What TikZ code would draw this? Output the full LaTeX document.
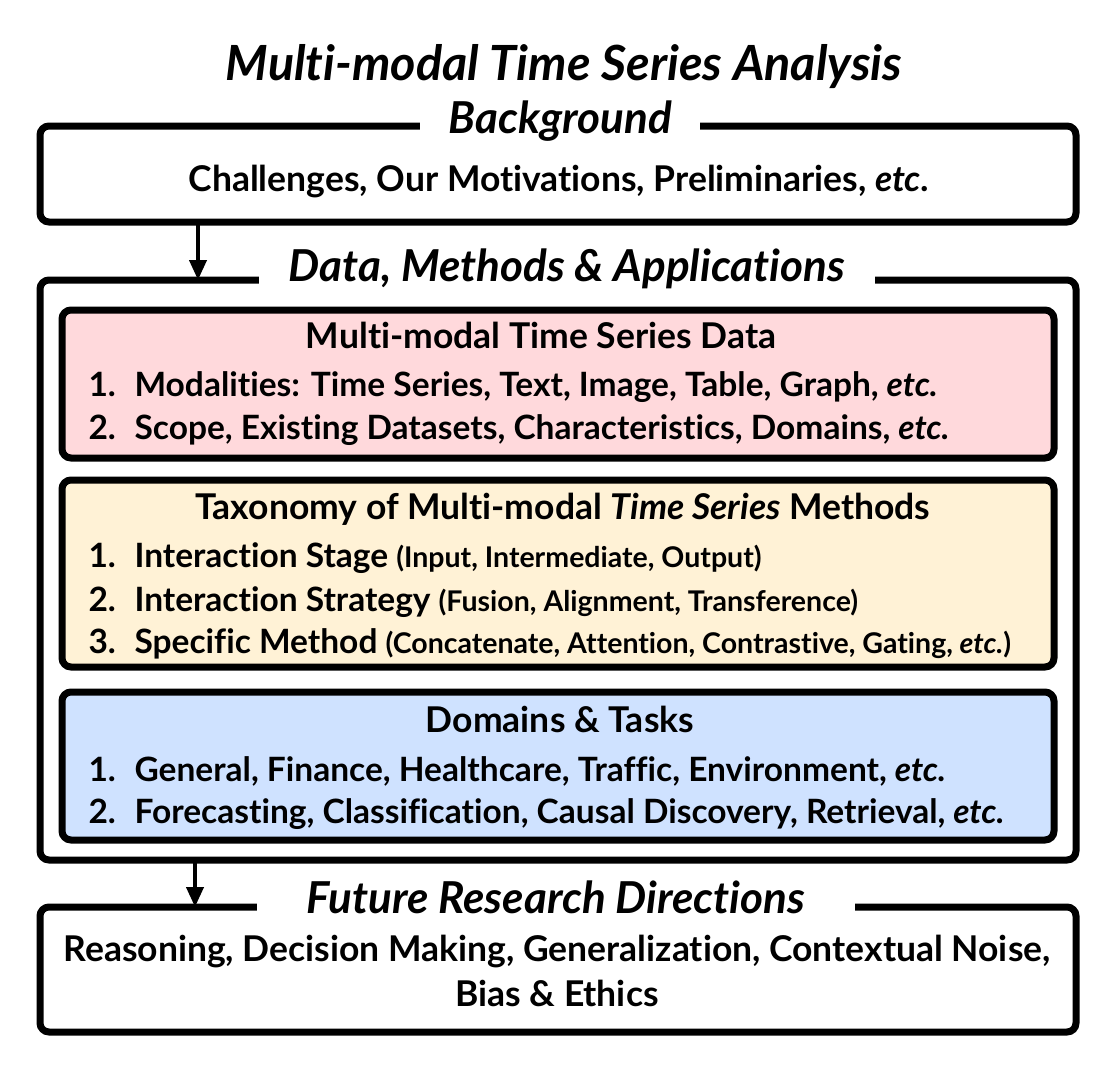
\documentclass[tikz,border=0pt]{standalone}
\usepackage{fontspec}
\setmainfont{Lato}[RawFeature={-liga;-clig;-calt;-dlig}]
\usetikzlibrary{arrows.meta}
\definecolor{datapink}{RGB}{255,217,220}
\definecolor{methodcream}{RGB}{255,242,214}
\definecolor{taskblue}{RGB}{207,226,255}
\newcommand{\smallnote}[1]{{\fontsize{28.5}{32}\selectfont #1}}
\newcommand{\num}[1]{\makebox[46pt][l]{#1}}
\tikzset{
  frame/.style={draw, line width=7pt, rounded corners=9pt, inner sep=0pt, outer sep=0pt, anchor=north west},
  tag/.style={fill=white, inner ysep=2pt, anchor=base, font=\fontsize{44}{50}\selectfont\bfseries\itshape},
  body/.style={anchor=base, font=\fontsize{35.5}{40}\selectfont\bfseries},
  item/.style={anchor=base west, font=\fontsize{33.5}{38}\selectfont\bfseries},
  flow/.style={line width=4pt, -{Triangle[width=17pt,length=20pt]}}
}
\begin{document}
\begin{tikzpicture}[x=1pt,y=-1pt]
    \useasboundingbox (0,0) rectangle (1118,1076);
    \node[anchor=base, font=\fontsize{48.5}{54}\selectfont\bfseries\itshape] (title) at (564,80) {Multi-modal Time Series Analysis};

    % outer frames
    \node[frame, minimum width=1036pt, minimum height=96pt] (bg) at (40,126) {};
    \node[frame, minimum width=1036pt, minimum height=580pt] (dma) at (40,280) {};
    \node[frame, minimum width=1036pt, minimum height=125pt] (future) at (40,907) {};

    % inner boxes
    \node[frame, fill=datapink, minimum width=992pt, minimum height=148pt] (data) at (62,310) {};
    \node[frame, fill=methodcream, minimum width=992pt, minimum height=187pt] (methods) at (62,480) {};
    \node[frame, fill=taskblue, minimum width=992pt, minimum height=148pt] (tasks) at (62,692) {};

    % frame labels
    \node[tag, inner xsep=28pt] (bglabel) at (560,133) {Background};
    \node[tag, inner xsep=30pt] (dmalabel) at (567,281) {Data, Methods \& Applications};
    \node[tag, inner xsep=50pt] (futurelabel) at (556,913) {Future Research Directions};

    \node[body] (bgtext) at (559,191) {Challenges, Our Motivations, Preliminaries, \textit{etc.}};

    \node[body] (datatitle) at (541,348) {Multi-modal Time Series Data};
    \node[item] (d1) at (85,396) {\num{1.}Modalities: Time Series, Text, Image, Table, Graph, \textit{etc.}};
    \node[item] (d2) at (85,439) {\num{2.}Scope, Existing Datasets, Characteristics, Domains, \textit{etc.}};

    \node[body] (methodstitle) at (563,519) {Taxonomy of Multi-modal \textit{Time Series} Methods};
    \node[item] (m1) at (85,567) {\num{1.}Interaction Stage \smallnote{(Input, Intermediate, Output)}};
    \node[item] (m2) at (85,611) {\num{2.}Interaction Strategy \smallnote{(Fusion, Alignment, Transference)}};
    \node[item] (m3) at (85,653) {\num{3.}Specific Method \smallnote{(Concatenate, Attention, Contrastive, Gating, \textit{etc.})}};

    \node[body] (taskstitle) at (560,732) {Domains \& Tasks};
    \node[item] (t1) at (85,781) {\num{1.}General, Finance, Healthcare, Traffic, Environment, \textit{etc.}};
    \node[item] (t2) at (85,823) {\num{2.}Forecasting, Classification, Causal Discovery, Retrieval, \textit{etc.}};

    \node[body, align=center] (futuretext) at (557,1006) {Reasoning, Decision Making, Generalization, Contextual Noise,\\[5pt]Bias \& Ethics};

    \draw[flow] ([xshift=158pt]bg.south west) -- ([xshift=158pt]dma.north west);
    \draw[flow] ([xshift=155pt]dma.south west) -- ([xshift=155pt]future.north west);
\end{tikzpicture}
\end{document}
